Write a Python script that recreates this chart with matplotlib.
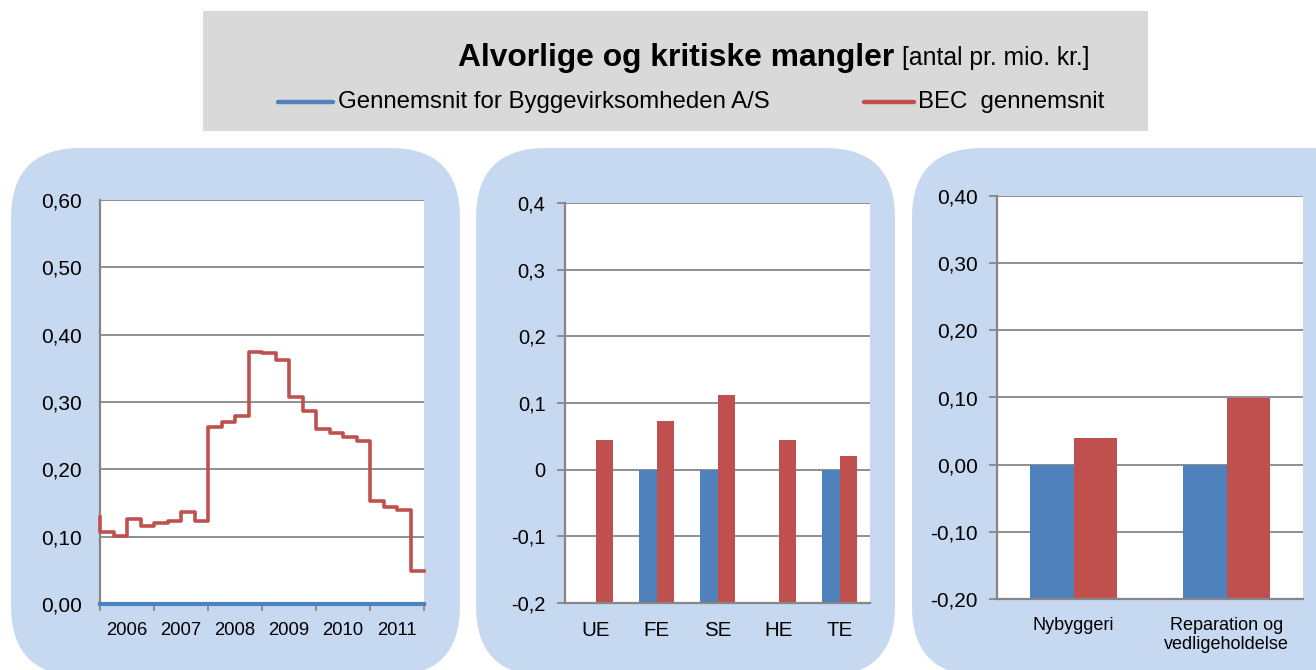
import matplotlib
matplotlib.use("Agg")
import matplotlib.pyplot as plt
import numpy as np
from matplotlib.patches import FancyBboxPatch, Rectangle
from matplotlib.lines import Line2D

plt.rcParams['font.family'] = ['Liberation Sans', 'DejaVu Sans']

W, H = 1316, 670
BLUE = '#4f81bd'
RED = '#c0504d'
PANEL = '#c6d9f0'
HEADER = '#d9d9d9'
GRID = '#868686'

title = 'Alvorlige og kritiske mangler'
unit = '[antal pr. mio. kr.]'
series_names = ['Gennemsnit for Byggevirksomheden A/S', 'BEC  gennemsnit']

# panel 1: quarterly step line 2006-2011
years = ['2006', '2007', '2008', '2009', '2010', '2011']
bec_start = 0.129
bec_quarterly = [0.107, 0.101, 0.126, 0.116, 0.121, 0.123, 0.136, 0.124,
                 0.263, 0.270, 0.279, 0.375, 0.373, 0.363, 0.307, 0.286,
                 0.260, 0.254, 0.248, 0.242, 0.153, 0.144, 0.140, 0.049]
byg_quarterly = [0.0, 0.0, 0.0, 0.0, 0.0, 0.0, 0.0, 0.0,
                 0.0, 0.0, 0.0, 0.0, 0.0, 0.0, 0.0, 0.0,
                 0.0, 0.0, 0.0, 0.0, 0.0, 0.0, 0.0, 0.0]
yticks1 = [0.0, 0.1, 0.2, 0.3, 0.4, 0.5, 0.6]
ylabels1 = ['0,00', '0,10', '0,20', '0,30', '0,40', '0,50', '0,60']

# panel 2: by trade
trades = ['UE', 'FE', 'SE', 'HE', 'TE']
byg_trades = [np.nan, 0.0, 0.0, np.nan, 0.0]
bec_trades = [0.045, 0.073, 0.112, 0.045, 0.021]
yticks2 = [-0.2, -0.1, 0.0, 0.1, 0.2, 0.3, 0.4]
ylabels2 = ['-0,2', '-0,1', '0', '0,1', '0,2', '0,3', '0,4']

# panel 3: by type
types = ['Nybyggeri', 'Reparation og\nvedligeholdelse']
byg_types = [0.0, 0.0]
bec_types = [0.039, 0.100]
yticks3 = [-0.2, -0.1, 0.0, 0.1, 0.2, 0.3, 0.4]
ylabels3 = ['-0,20', '-0,10', '0,00', '0,10', '0,20', '0,30', '0,40']

fig = plt.figure(figsize=(W / 100, H / 100), dpi=100)
fig.patch.set_facecolor('white')

bg = fig.add_axes([0, 0, 1, 1])
bg.set_xlim(0, W)
bg.set_ylim(H, 0)
bg.axis('off')

# header box
bg.add_patch(Rectangle((203, 11), 945, 120, facecolor=HEADER, edgecolor='none'))
bg.text(458, 58, title, fontsize=22.9, fontweight='bold', ha='left', va='center')
bg.text(902, 58, unit, fontsize=17.8, ha='left', va='center')
bg.add_line(Line2D([278, 333], [102, 102], color=BLUE, lw=3.2, solid_capstyle='round'))
bg.text(338, 102, series_names[0], fontsize=17.3, ha='left', va='center')
bg.add_line(Line2D([864, 914], [102, 102], color=RED, lw=3.2, solid_capstyle='round'))
bg.text(918, 102, series_names[1], fontsize=17.3, ha='left', va='center')

# rounded panels
for x0, x1 in [(11, 460), (476, 895), (912, 1380)]:
    bg.add_patch(FancyBboxPatch((x0, 148), x1 - x0, 528,
                                boxstyle='round,pad=0,rounding_size=70',
                                facecolor=PANEL, edgecolor='none'))


def px_axes(l, t, r, b):
    return fig.add_axes([l / W, 1 - b / H, (r - l) / W, (b - t) / H])


def style(ax):
    ax.set_facecolor('white')
    for s in ['top', 'right']:
        ax.spines[s].set_visible(False)
    for s in ['left', 'bottom']:
        ax.spines[s].set_color(GRID)
        ax.spines[s].set_linewidth(1.6)
    ax.yaxis.grid(True, color=GRID, lw=1.3)
    ax.set_axisbelow(True)


# chart 1
ax1 = px_axes(100, 200, 424, 604)
style(ax1)
xs = np.r_[0, np.arange(25)]
ys = np.r_[bec_start, bec_quarterly, bec_quarterly[-1]]
ax1.step(xs, ys, where='post', color=RED, lw=2.6, clip_on=False, zorder=3)
ax1.step(np.arange(25), np.r_[byg_quarterly, byg_quarterly[-1]], where='post',
         color=BLUE, lw=3, clip_on=False, zorder=4)
ax1.set_xlim(0, 24)
ax1.set_ylim(0, 0.6)
ax1.set_yticks(yticks1)
ax1.set_yticklabels(ylabels1)
ax1.tick_params(axis='y', length=0, pad=13, labelsize=15)
ax1.set_xticks(np.arange(0, 25, 4))
ax1.set_xticklabels([])
ax1.set_xticks(np.arange(2, 24, 4), minor=True)
ax1.set_xticklabels(years, minor=True)
ax1.tick_params(axis='x', which='major', length=5, color=GRID, width=1.3)
ax1.tick_params(axis='x', which='minor', length=0, pad=13, labelsize=13.3)

# chart 2
ax2 = px_axes(565, 203, 870, 603)
style(ax2)
pos = np.arange(len(trades))
bw = 0.285
ax2.bar(pos - bw / 2, np.array(byg_trades) + 0.2, bw, bottom=-0.2, color=BLUE)
ax2.bar(pos + bw / 2, np.array(bec_trades) + 0.2, bw, bottom=-0.2, color=RED)
ax2.set_xlim(-0.5, len(trades) - 0.5)
ax2.set_ylim(-0.2, 0.4)
ax2.set_yticks(yticks2)
ax2.set_yticklabels(ylabels2)
ax2.set_xticks(pos)
ax2.set_xticklabels(trades)
ax2.tick_params(axis='y', length=6, color=GRID, width=1.3, pad=8, labelsize=14.5)
ax2.tick_params(axis='x', length=0, pad=13, labelsize=14.8)

# chart 3
ax3 = px_axes(997, 196, 1303, 599)
style(ax3)
pos3 = np.arange(len(types))
ax3.bar(pos3 - bw / 2, np.array(byg_types) + 0.2, bw, bottom=-0.2, color=BLUE)
ax3.bar(pos3 + bw / 2, np.array(bec_types) + 0.2, bw, bottom=-0.2, color=RED)
ax3.set_xlim(-0.5, len(types) - 0.5)
ax3.set_ylim(-0.2, 0.4)
ax3.set_yticks(yticks3)
ax3.set_yticklabels(ylabels3)
ax3.set_xticks(pos3)
ax3.set_xticklabels(types, linespacing=1.15)
ax3.tick_params(axis='y', length=6, color=GRID, width=1.3, pad=8, labelsize=15)
ax3.tick_params(axis='x', length=0, pad=13, labelsize=13)

fig.savefig('out.png', dpi=100)
